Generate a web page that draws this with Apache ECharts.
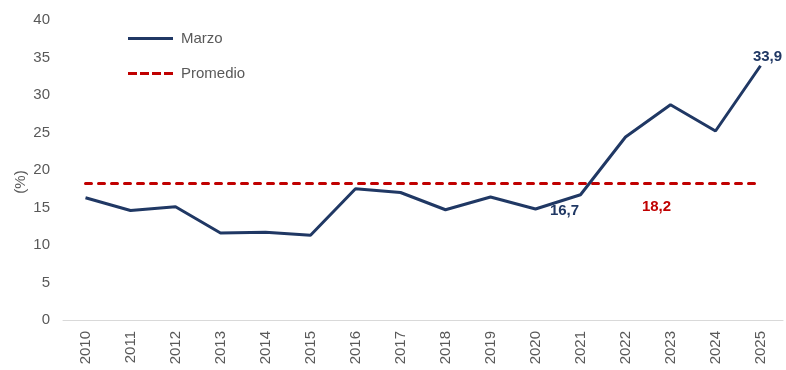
<!DOCTYPE html>
<html>
<head>
<meta charset="utf-8">
<script src="https://cdn.jsdelivr.net/npm/echarts@6/dist/echarts.min.js"></script>
<style>
  html, body { margin: 0; padding: 0; background: #fff; }
  #chart { width: 786px; height: 370px; }
</style>
</head>
<body>
<div id="chart"></div>
<script>
// Years on the x axis
const years = ['2010','2011','2012','2013','2014','2015','2016','2017','2018','2019','2020','2021','2022','2023','2024','2025'];
// March values (%)
const marzo = [16.3, 14.6, 15.1, 11.6, 11.7, 11.3, 17.5, 17.0, 14.7, 16.4, 14.8, 16.7, 24.4, 28.7, 25.2, 33.9];
// Historical average (%)
const promedio = 18.2;
// Y-axis range
const yMin = 0, yMax = 40, yStep = 5;

const navy = '#203864';
const red = '#C00000';
const grey = '#595959';
const font = 'Liberation Sans, Arial, sans-serif';

const promedioSeries = years.map(() => promedio);
const labelledMarzo = { '2021': 'below', '2025': 'above' };
const fmt = (p) => p.value.toFixed(1).replace('.', ',');

const chart = echarts.init(document.getElementById('chart'), null, { renderer: 'canvas' });
chart.setOption({
  animation: false,
  textStyle: { fontFamily: font },
  grid: { left: 63, right: 3, top: 20, bottom: 50, containLabel: false },
  legend: {
    orient: 'vertical',
    left: 123, top: 26,
    itemWidth: 45, itemHeight: 14, itemGap: 20,
    textStyle: { color: grey, fontSize: 15, fontFamily: font, padding: [0, 0, 0, 3] },
    data: [
      { name: 'Marzo', icon: 'path://M0,6 L45,6 L45,9 L0,9 Z', itemStyle: { color: navy, opacity: 1 } },
      { name: 'Promedio', icon: 'path://M0,6 L9,6 L9,9 L0,9 Z M12,6 L21,6 L21,9 L12,9 Z M24,6 L33,6 L33,9 L24,9 Z M36,6 L45,6 L45,9 L36,9 Z', itemStyle: { color: red, opacity: 1 } }
    ]
  },
  xAxis: {
    type: 'category',
    data: years,
    boundaryGap: true,
    axisLine: { lineStyle: { color: '#D9D9D9', width: 1 } },
    axisTick: { show: false },
    axisLabel: { rotate: 90, margin: 11, color: grey, fontSize: 15, fontFamily: font }
  },
  yAxis: {
    type: 'value',
    min: yMin, max: yMax, interval: yStep,
    name: '(%)',
    nameLocation: 'middle',
    nameRotate: 90,
    nameGap: 35,
    nameMoveOverlap: false,
    nameTextStyle: { color: grey, fontSize: 15, fontFamily: font, padding: [0, 24, 0, 0] },
    axisLine: { show: false },
    axisTick: { show: false },
    splitLine: { show: false },
    axisLabel: { margin: 13, color: grey, fontSize: 15, fontFamily: font }
  },
  series: [
    {
      name: 'Marzo',
      type: 'line',
      data: marzo.map((v, i) => {
        const pos = labelledMarzo[years[i]];
        if (!pos) return v;
        return {
          value: v,
          label: {
            show: true,
            position: pos === 'above' ? 'top' : 'bottom',
            distance: 4,
            offset: pos === 'above' ? [7, 3] : [-16, 4],
            formatter: fmt,
            color: navy, fontWeight: 'bold', fontSize: 15, fontFamily: font
          }
        };
      }),
      symbol: 'circle',
      symbolSize: 1,
      showSymbol: true,
      itemStyle: { color: 'rgba(0,0,0,0)' },
      lineStyle: { color: navy, width: 3 },
      z: 3
    },
    {
      name: 'Promedio',
      type: 'line',
      data: promedioSeries.map((v, i) => years[i] === '2023' ? {
        value: v,
        label: {
          show: true,
          position: 'bottom',
          offset: [-14, 10],
          formatter: fmt,
          color: red, fontWeight: 'bold', fontSize: 15, fontFamily: font
        }
      } : v),
      symbol: 'circle',
      symbolSize: 1,
      showSymbol: true,
      itemStyle: { color: 'rgba(0,0,0,0)' },
      lineStyle: { color: red, width: 3, type: [6, 7], cap: 'round' },
      z: 2
    }
  ]
});
</script>
</body>
</html>
